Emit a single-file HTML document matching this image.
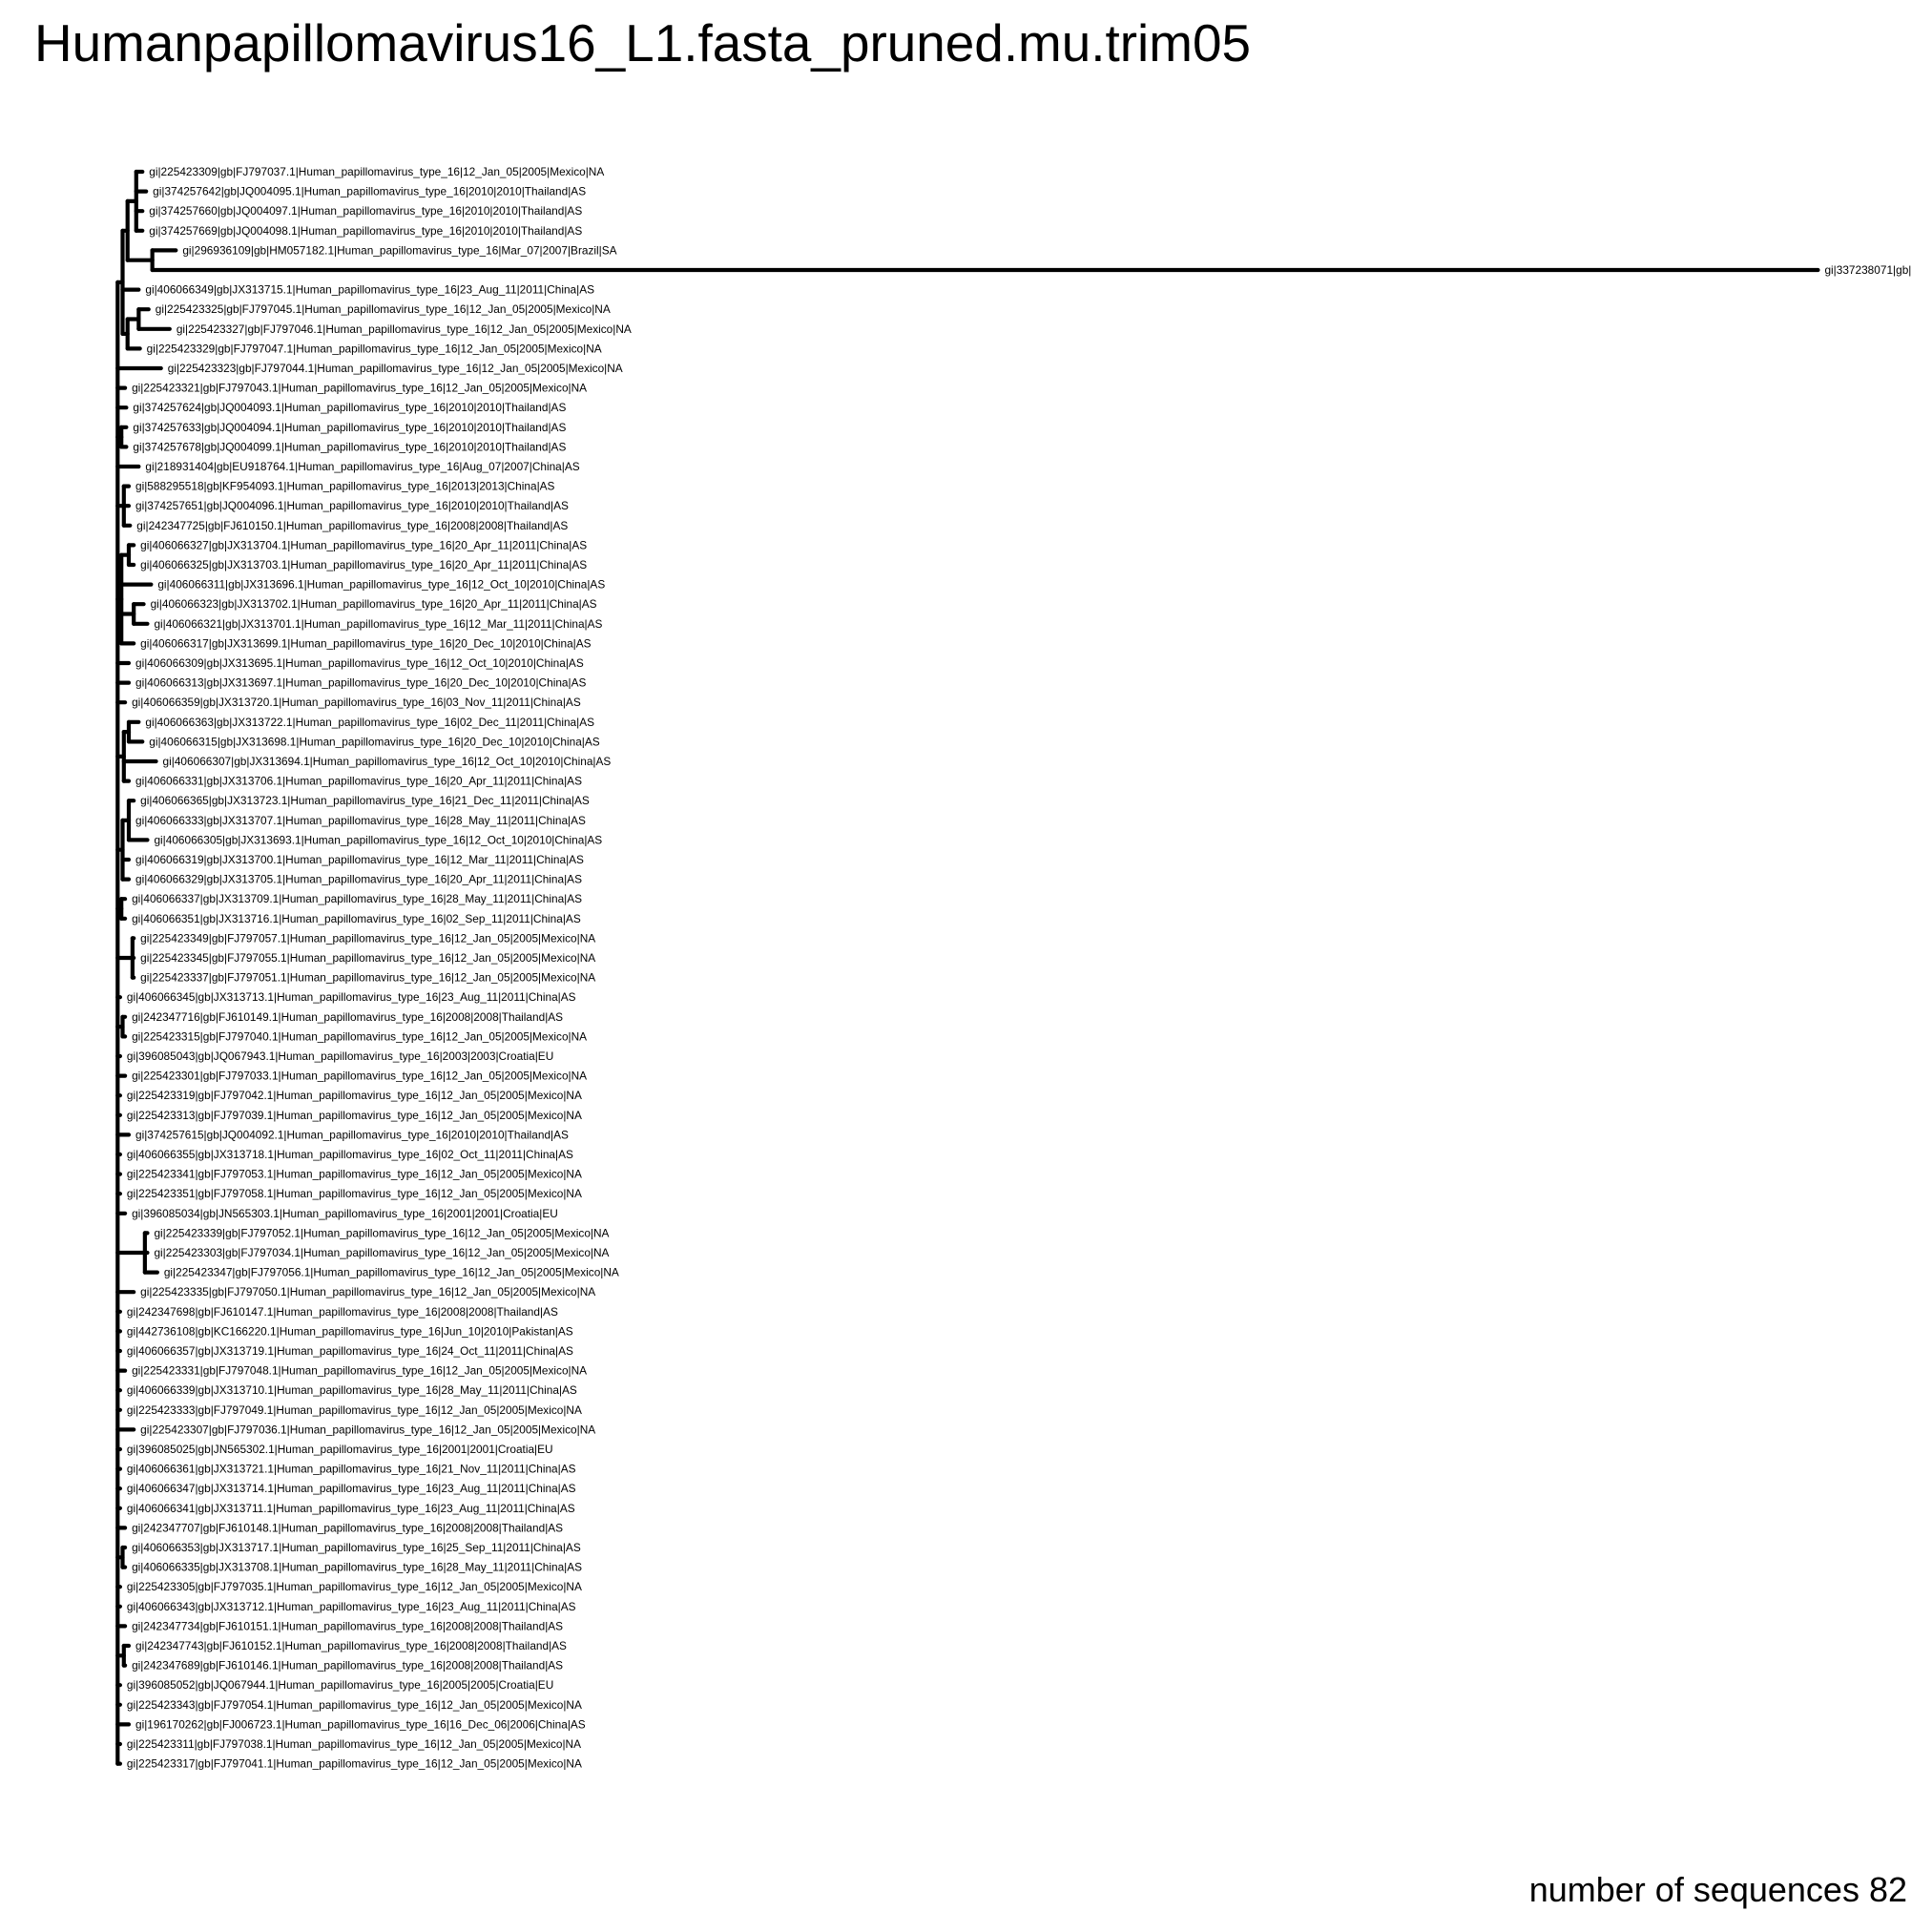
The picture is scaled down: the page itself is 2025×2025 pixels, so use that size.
<!DOCTYPE html>
<html><head><meta charset="utf-8"><title>Humanpapillomavirus16_L1 tree</title>
<style>html,body{margin:0;padding:0;background:#fff}svg{display:block}</style></head>
<body>
<svg id="chart" width="2025" height="2025" viewBox="0 0 2025 2025" xmlns="http://www.w3.org/2000/svg" font-family="'Liberation Sans', Arial, sans-serif">
<rect width="2025" height="2025" fill="#fff"/>
<text x="36" y="64" font-size="55" textLength="1275" lengthAdjust="spacingAndGlyphs">Humanpapillomavirus16_L1.fasta_pruned.mu.trim05</text>
<text x="1999" y="1993" font-size="36" text-anchor="end">number of sequences 82</text>
<g id="branches"></g>
<g id="labels"></g>
</svg>
<script>
const P = "|Human_papillomavirus_type_16|";
const tipNames = [
"gi|225423309|gb|FJ797037.1"+P+"12_Jan_05|2005|Mexico|NA",
"gi|374257642|gb|JQ004095.1"+P+"2010|2010|Thailand|AS",
"gi|374257660|gb|JQ004097.1"+P+"2010|2010|Thailand|AS",
"gi|374257669|gb|JQ004098.1"+P+"2010|2010|Thailand|AS",
"gi|296936109|gb|HM057182.1"+P+"Mar_07|2007|Brazil|SA",
"gi|337238071|gb|",
"gi|406066349|gb|JX313715.1"+P+"23_Aug_11|2011|China|AS",
"gi|225423325|gb|FJ797045.1"+P+"12_Jan_05|2005|Mexico|NA",
"gi|225423327|gb|FJ797046.1"+P+"12_Jan_05|2005|Mexico|NA",
"gi|225423329|gb|FJ797047.1"+P+"12_Jan_05|2005|Mexico|NA",
"gi|225423323|gb|FJ797044.1"+P+"12_Jan_05|2005|Mexico|NA",
"gi|225423321|gb|FJ797043.1"+P+"12_Jan_05|2005|Mexico|NA",
"gi|374257624|gb|JQ004093.1"+P+"2010|2010|Thailand|AS",
"gi|374257633|gb|JQ004094.1"+P+"2010|2010|Thailand|AS",
"gi|374257678|gb|JQ004099.1"+P+"2010|2010|Thailand|AS",
"gi|218931404|gb|EU918764.1"+P+"Aug_07|2007|China|AS",
"gi|588295518|gb|KF954093.1"+P+"2013|2013|China|AS",
"gi|374257651|gb|JQ004096.1"+P+"2010|2010|Thailand|AS",
"gi|242347725|gb|FJ610150.1"+P+"2008|2008|Thailand|AS",
"gi|406066327|gb|JX313704.1"+P+"20_Apr_11|2011|China|AS",
"gi|406066325|gb|JX313703.1"+P+"20_Apr_11|2011|China|AS",
"gi|406066311|gb|JX313696.1"+P+"12_Oct_10|2010|China|AS",
"gi|406066323|gb|JX313702.1"+P+"20_Apr_11|2011|China|AS",
"gi|406066321|gb|JX313701.1"+P+"12_Mar_11|2011|China|AS",
"gi|406066317|gb|JX313699.1"+P+"20_Dec_10|2010|China|AS",
"gi|406066309|gb|JX313695.1"+P+"12_Oct_10|2010|China|AS",
"gi|406066313|gb|JX313697.1"+P+"20_Dec_10|2010|China|AS",
"gi|406066359|gb|JX313720.1"+P+"03_Nov_11|2011|China|AS",
"gi|406066363|gb|JX313722.1"+P+"02_Dec_11|2011|China|AS",
"gi|406066315|gb|JX313698.1"+P+"20_Dec_10|2010|China|AS",
"gi|406066307|gb|JX313694.1"+P+"12_Oct_10|2010|China|AS",
"gi|406066331|gb|JX313706.1"+P+"20_Apr_11|2011|China|AS",
"gi|406066365|gb|JX313723.1"+P+"21_Dec_11|2011|China|AS",
"gi|406066333|gb|JX313707.1"+P+"28_May_11|2011|China|AS",
"gi|406066305|gb|JX313693.1"+P+"12_Oct_10|2010|China|AS",
"gi|406066319|gb|JX313700.1"+P+"12_Mar_11|2011|China|AS",
"gi|406066329|gb|JX313705.1"+P+"20_Apr_11|2011|China|AS",
"gi|406066337|gb|JX313709.1"+P+"28_May_11|2011|China|AS",
"gi|406066351|gb|JX313716.1"+P+"02_Sep_11|2011|China|AS",
"gi|225423349|gb|FJ797057.1"+P+"12_Jan_05|2005|Mexico|NA",
"gi|225423345|gb|FJ797055.1"+P+"12_Jan_05|2005|Mexico|NA",
"gi|225423337|gb|FJ797051.1"+P+"12_Jan_05|2005|Mexico|NA",
"gi|406066345|gb|JX313713.1"+P+"23_Aug_11|2011|China|AS",
"gi|242347716|gb|FJ610149.1"+P+"2008|2008|Thailand|AS",
"gi|225423315|gb|FJ797040.1"+P+"12_Jan_05|2005|Mexico|NA",
"gi|396085043|gb|JQ067943.1"+P+"2003|2003|Croatia|EU",
"gi|225423301|gb|FJ797033.1"+P+"12_Jan_05|2005|Mexico|NA",
"gi|225423319|gb|FJ797042.1"+P+"12_Jan_05|2005|Mexico|NA",
"gi|225423313|gb|FJ797039.1"+P+"12_Jan_05|2005|Mexico|NA",
"gi|374257615|gb|JQ004092.1"+P+"2010|2010|Thailand|AS",
"gi|406066355|gb|JX313718.1"+P+"02_Oct_11|2011|China|AS",
"gi|225423341|gb|FJ797053.1"+P+"12_Jan_05|2005|Mexico|NA",
"gi|225423351|gb|FJ797058.1"+P+"12_Jan_05|2005|Mexico|NA",
"gi|396085034|gb|JN565303.1"+P+"2001|2001|Croatia|EU",
"gi|225423339|gb|FJ797052.1"+P+"12_Jan_05|2005|Mexico|NA",
"gi|225423303|gb|FJ797034.1"+P+"12_Jan_05|2005|Mexico|NA",
"gi|225423347|gb|FJ797056.1"+P+"12_Jan_05|2005|Mexico|NA",
"gi|225423335|gb|FJ797050.1"+P+"12_Jan_05|2005|Mexico|NA",
"gi|242347698|gb|FJ610147.1"+P+"2008|2008|Thailand|AS",
"gi|442736108|gb|KC166220.1"+P+"Jun_10|2010|Pakistan|AS",
"gi|406066357|gb|JX313719.1"+P+"24_Oct_11|2011|China|AS",
"gi|225423331|gb|FJ797048.1"+P+"12_Jan_05|2005|Mexico|NA",
"gi|406066339|gb|JX313710.1"+P+"28_May_11|2011|China|AS",
"gi|225423333|gb|FJ797049.1"+P+"12_Jan_05|2005|Mexico|NA",
"gi|225423307|gb|FJ797036.1"+P+"12_Jan_05|2005|Mexico|NA",
"gi|396085025|gb|JN565302.1"+P+"2001|2001|Croatia|EU",
"gi|406066361|gb|JX313721.1"+P+"21_Nov_11|2011|China|AS",
"gi|406066347|gb|JX313714.1"+P+"23_Aug_11|2011|China|AS",
"gi|406066341|gb|JX313711.1"+P+"23_Aug_11|2011|China|AS",
"gi|242347707|gb|FJ610148.1"+P+"2008|2008|Thailand|AS",
"gi|406066353|gb|JX313717.1"+P+"25_Sep_11|2011|China|AS",
"gi|406066335|gb|JX313708.1"+P+"28_May_11|2011|China|AS",
"gi|225423305|gb|FJ797035.1"+P+"12_Jan_05|2005|Mexico|NA",
"gi|406066343|gb|JX313712.1"+P+"23_Aug_11|2011|China|AS",
"gi|242347734|gb|FJ610151.1"+P+"2008|2008|Thailand|AS",
"gi|242347743|gb|FJ610152.1"+P+"2008|2008|Thailand|AS",
"gi|242347689|gb|FJ610146.1"+P+"2008|2008|Thailand|AS",
"gi|396085052|gb|JQ067944.1"+P+"2005|2005|Croatia|EU",
"gi|225423343|gb|FJ797054.1"+P+"12_Jan_05|2005|Mexico|NA",
"gi|196170262|gb|FJ006723.1"+P+"16_Dec_06|2006|China|AS",
"gi|225423311|gb|FJ797038.1"+P+"12_Jan_05|2005|Mexico|NA",
"gi|225423317|gb|FJ797041.1"+P+"12_Jan_05|2005|Mexico|NA"
];
// tip depths (distance units)
const tipDepth = [115,118,115,115,142,1468,112,120,137,113,130,101,102,102,102,112,104,104,105,
108,108,122,116,119,108,104,104,101,112,115,126,104,108,104,119,104,104,101,101,
108,108,108,97,101,101,97,101,97,97,104,97,97,97,101,119,119,127,108,97,97,97,101,97,97,108,
97,97,97,97,101,101,101,97,97,101,104,101,97,97,104,97,97];
// internal node depths and topology (leaf = index number)
const tree = {d:95,c:[
 {d:99,c:[ {d:103,c:[ {d:110,c:[0,1,2,3]}, {d:123,c:[4,5]} ]}, 6, {d:103,c:[ {d:112,c:[7,8]}, 9 ]} ]},
 10, 11, 12, {d:98,c:[13,14]}, 15, {d:100,c:[16,17,18]},
 {d:98,c:[ {d:104,c:[19,20]}, 21, {d:108,c:[22,23]}, 24 ]},
 25, 26, 27,
 {d:100,c:[ {d:104,c:[28,29]}, 30, 31 ]},
 {d:99,c:[ {d:104,c:[32,33,34]}, 35, 36 ]},
 {d:98,c:[37,38]},
 {d:107,c:[39,40,41]},
 42, {d:99,c:[43,44]}, 45, 46, 47, 48, 49, 50, 51, 52, 53,
 {d:117,c:[54,55,56]},
 57, 58, 59, 60, 61, 62, 63, 64, 65, 66, 67, 68, 69,
 {d:99,c:[70,71]}, 72, 73, 74, {d:100,c:[75,76]}, 77, 78, 79, 80, 81
]};

const K = 1.298, X0 = 0;
function xScale(d){ return X0 + d*K; }
const Y0 = 180, DY = 20.6;
function yScale(i){ return Y0 + i*DY; }

const NS = "http://www.w3.org/2000/svg";
const gB = document.getElementById('branches');
const gL = document.getElementById('labels');
function line(x1,y1,x2,y2,name){
  const l = document.createElementNS(NS,'line');
  l.setAttribute('x1',x1); l.setAttribute('y1',y1); l.setAttribute('x2',x2); l.setAttribute('y2',y2);
  l.setAttribute('stroke','#000'); l.setAttribute('stroke-width','4.2'); l.setAttribute('stroke-linecap','round');
  
  
  gB.appendChild(l);
}
function draw(node, parentX){
  if (typeof node === 'number'){
    const y = yScale(node), x = xScale(tipDepth[node]);
    line(parentX, y, x, y, 'tip-branch');
    const t = document.createElementNS(NS,'text');
    t.setAttribute('x', x+7); t.setAttribute('y', y+4);
    t.setAttribute('font-size','11.85');
    
    
    t.textContent = tipNames[node];
    gL.appendChild(t);
    return y;
  }
  const x = xScale(node.d);
  const ys = node.c.map(ch => draw(ch, x));
  const yTop = Math.min(...ys), yBot = Math.max(...ys);
  line(x, yTop, x, yBot, 'clade-vertical');
  const yMid = (yTop + yBot)/2;
  if (parentX !== null) line(parentX, yMid, x, yMid, 'internal-branch');
  return yMid;
}
draw(tree, null);
</script>
</body></html>
